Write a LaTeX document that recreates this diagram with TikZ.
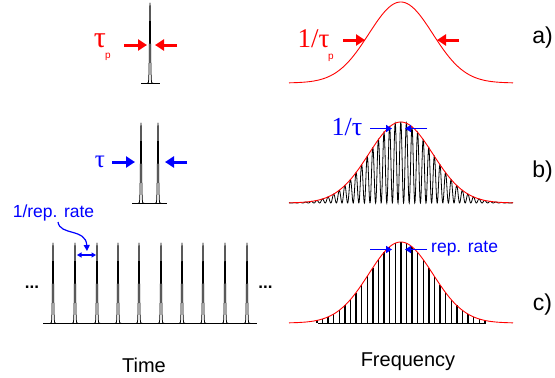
\documentclass[tikz,border=0pt]{standalone}
\usepackage{fontspec}
\setmainfont{Liberation Sans}
\newfontfamily\grserif{Liberation Serif}
\usetikzlibrary{arrows.meta}
\begin{document}
\begin{tikzpicture}[x=1pt,y=-1pt,
  lbl/.style={inner sep=0pt},
  sanslbl/.style={lbl, font=\fontsize{20}{22}\selectfont},
  rowlbl/.style={lbl, font=\fontsize{23}{25}\selectfont},
  taulbl/.style={lbl, font=\grserif\fontsize{#1}{#1}\selectfont},
  sublbl/.style={lbl, font=\fontsize{10}{11}\selectfont},
  bluelbl/.style={lbl, blue, font=\fontsize{17.5}{19}\selectfont},
  pulseline/.style={black, line width=0.75pt, line join=round},
  envline/.style={red, line width=0.9pt},
  fringeline/.style={black, line width=0.8pt},
  combline/.style={black, line width=1.4pt},
  bigarr/.style={line width=3pt, -{Triangle[length=9pt,width=11pt]}},
  midarr/.style={line width=1.8pt, -{Triangle[length=6pt,width=7pt]}},
  thinarr/.style={blue, line width=1.2pt},
]
\useasboundingbox (0,0) rectangle (555,378);

% ---------- Row a ----------
\draw[pulseline] (141,83) -- (160,83);
\draw[pulseline] plot[domain=-3:3,samples=61] ({150+\x},{83-80*exp(-(\x*\x)/0.55)});
\node[taulbl=30, red] (tauA) at (100,41) {τ};
\node[sublbl, red] (pA) at (108,57) {p};
\coordinate (aL1) at (124,45); \coordinate (aL2) at (147,45);
\coordinate (aR1) at (177,45); \coordinate (aR2) at (155,45);
\draw[bigarr, red] (aL1) -- (aL2);
\draw[bigarr, red] (aR1) -- (aR2);

\draw[envline] plot[domain=-111.8:112.2,samples=200] ({400.8+\x},{83-81*exp(-(\x*\x)/2048)});
\node[taulbl=27, red] (invtauA) at (313.5,39) {1/τ};
\node[sublbl, red] (pA2) at (331,58) {p};
\coordinate (fL1) at (343,40); \coordinate (fL2) at (365,40);
\coordinate (fR1) at (459,40); \coordinate (fR2) at (437,40);
\draw[bigarr, red] (fL1) -- (fL2);
\draw[bigarr, red] (fR1) -- (fR2);
\node[rowlbl] (la) at (542.5,37.5) {a)};

% ---------- Row b ----------
\draw[pulseline] (132,203) -- (167,203);
\foreach \px in {141,158}{
  \draw[pulseline] plot[domain=-3:3,samples=61] ({\px+\x},{203-80*exp(-(\x*\x)/0.55)});
}
\node[taulbl=25, blue] (tauB) at (100,162) {τ};
\coordinate (bL1) at (112,162); \coordinate (bL2) at (135,162);
\coordinate (bR1) at (187,162); \coordinate (bR2) at (165,162);
\draw[bigarr, blue] (bL1) -- (bL2);
\draw[bigarr, blue] (bR1) -- (bR2);

\draw[fringeline] plot[domain=-111.8:112.2,samples=1100] ({400.8+\x},{203-81*exp(-(\x*\x)/2048)*pow(cos(\x/5.6*180),2)});
\draw[envline] plot[domain=-111.8:112.2,samples=200] ({400.8+\x},{203-81*exp(-(\x*\x)/2048)});
\node[taulbl=26, blue] (invtauB) at (347,127) {1/τ};
\coordinate (gL1) at (370,128.5); \coordinate (gL2) at (392,128.5);
\coordinate (gR1) at (427,128.5); \coordinate (gR2) at (405,128.5);
\draw[midarr, blue] (gL1) -- (gL2);
\draw[midarr, blue] (gR1) -- (gR2);
\node[rowlbl] (lb) at (542.5,172) {b)};

% ---------- Row c ----------
\draw[pulseline] (43,323) -- (257,323);
\foreach \px in {53,75,97,118,139,161,182,203,225,247}{
  \draw[pulseline] plot[domain=-3:3,samples=61] ({\px+\x},{323-80*exp(-(\x*\x)/0.55)});
}
\node[lbl, font=\bfseries\fontsize{17}{18}\selectfont, anchor=base] (dotsL) at (32,288) {...};
\node[lbl, font=\bfseries\fontsize{17}{18}\selectfont, anchor=base] (dotsR) at (265.5,288) {...};
\node[bluelbl] (invrep) at (53.5,213) {1/rep. rate};
\coordinate (cL) at (77,255); \coordinate (cR) at (96,255);
\draw[thinarr, {Triangle[length=4.5pt,width=5pt]}-{Triangle[length=4.5pt,width=5pt]}] (cL) -- (cR);
\coordinate (cstart) at (58,222);
\coordinate (ctip) at (87,251);
\draw[thinarr, -{Triangle[length=6pt,width=6pt]}] (cstart) .. controls (60,236) and (86,228) .. (ctip);

\draw[black, line width=0.8pt] (318,323) -- (486,323);
\foreach \k in {-15,...,15}{
  \draw[combline] ({400.8+5.6*\k},323) -- ({400.8+5.6*\k},{323-81*exp(-(5.6*\k)*(5.6*\k)/2048)});
}
\draw[envline] plot[domain=-111.8:112.2,samples=200] ({400.8+\x},{323-81*exp(-(\x*\x)/2048)});
\coordinate (hL1) at (370,249.5); \coordinate (hL2) at (392,249.5);
\coordinate (hR1) at (427,249.5); \coordinate (hR2) at (405,249.5);
\draw[thinarr, line width=1.6pt, -{Triangle[length=6pt,width=7pt]}] (hL1) -- (hL2);
\draw[thinarr, line width=1.6pt, -{Triangle[length=6pt,width=7pt]}] (hR1) -- (hR2);
\node[bluelbl, anchor=west] (rep) at (431,249) {rep. rate};
\node[rowlbl] (lc) at (542.5,305) {c)};

% ---------- Axis labels ----------
\node[sanslbl] (time) at (144,365) {Time};
\node[sanslbl] (freq) at (408,362) {Frequency};
\end{tikzpicture}
\end{document}
